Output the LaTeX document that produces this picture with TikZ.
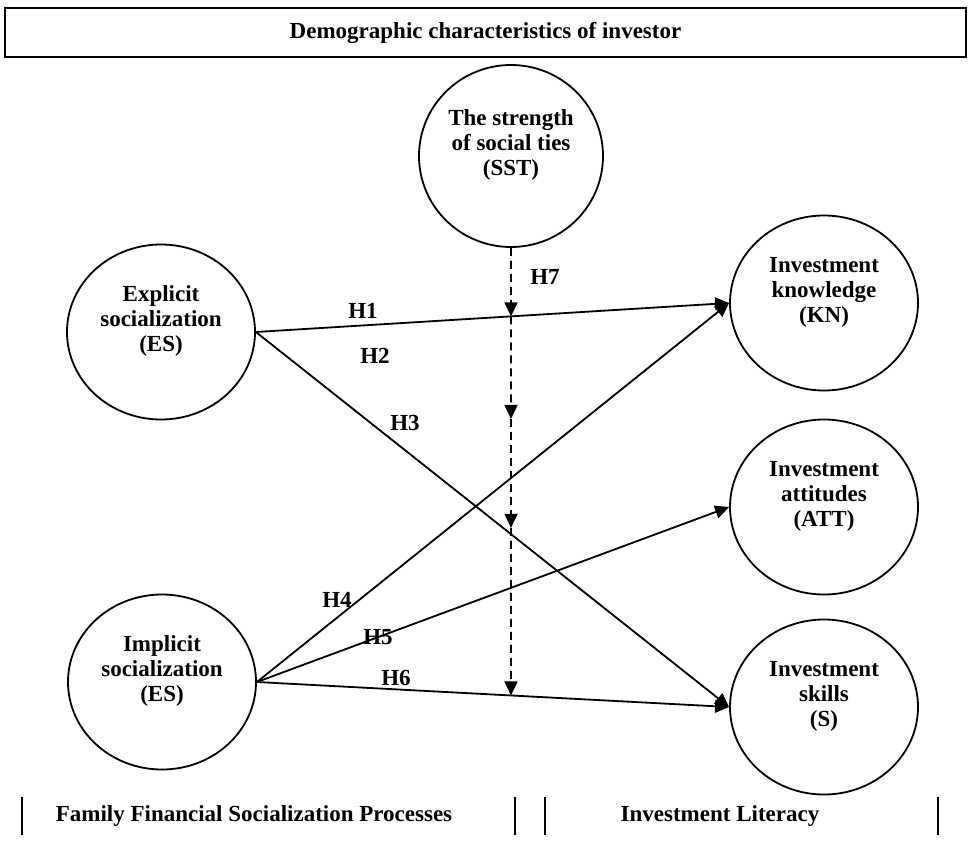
\documentclass[tikz,border=0pt]{standalone}
\usepackage{fontspec}
\setmainfont{Liberation Serif}
\usetikzlibrary{arrows.meta,shapes.geometric,calc}

\begin{document}
\begin{tikzpicture}[x=1pt, y=1pt, >={Triangle[length=14pt,width=13pt]}, line width=1.8pt,
		font=\bfseries\fontsize{23}{25}\selectfont,
		construct/.style={ellipse, draw, minimum width=188pt, minimum height=175pt, inner sep=0pt, align=center, text depth=27pt},
		hyp/.style={inner sep=0pt}]
		\useasboundingbox (0,0) rectangle (971,-851);
		% top box
		\node[draw, minimum width=961pt, minimum height=49pt, inner sep=0pt] (demo) at (485.5,-32.5) {Demographic characteristics of investor};
		% moderator
		\node[construct, minimum width=184pt, minimum height=182pt] (SST) at (511,-156) {The strength\\of social ties\\(SST)};
		% socialization processes
		\node[construct] (ES) at (161,-332) {Explicit\\socialization\\(ES)};
		\node[construct] (IS) at (162,-682) {Implicit\\socialization\\(ES)};
		% investment literacy
		\node[construct] (KN) at (824,-303) {Investment\\knowledge\\(KN)};
		\node[construct] (ATT) at (824,-507) {Investment\\attitudes\\(ATT)};
		\node[construct] (S) at (824,-707) {Investment\\skills\\(S)};
		% direct paths
		\draw[->] (ES.east) -- (KN.west);
		\draw[->] (ES.east) -- (S.west);
		\draw[->] (IS.east) -- (KN.west);
		\draw[->] (IS.east) -- (ATT.west);
		\draw[->] (IS.east) -- (S.west);
		% moderating path, broken into arrowed pieces
		\coordinate (m0) at ($(SST.south)+(0,-600)$);
		\coordinate (m1) at (intersection of ES.east--KN.west and SST.south--m0);
		\coordinate (m2) at ($(SST.south)+(0,-171)$);
		\coordinate (m3) at ($(SST.south)+(0,-280)$);
		\coordinate (m4) at (intersection of IS.east--S.west and SST.south--m0);
		\draw[->, dash pattern=on 8pt off 5pt] (SST.south) -- (m1);
		\draw[->, dash pattern=on 8pt off 5pt] (m1) -- (m2);
		\draw[->, dash pattern=on 8pt off 5pt] (m2) -- (m3);
		\draw[->, dash pattern=on 8pt off 5pt] (m3) -- (m4);
		% hypothesis labels
		\node[hyp] (h1) at (363,-311) {H1};
		\node[hyp] (h2) at (375,-356) {H2};
		\node[hyp] (h3) at (405,-423) {H3};
		\node[hyp] (h4) at (337,-600) {H4};
		\node[hyp] (h5) at (378,-637) {H5};
		\node[hyp] (h6) at (396,-678) {H6};
		\node[hyp] (h7) at (545,-277) {H7};
		% bottom captions
		\draw (22,-797) -- (22,-835);
		\draw (515,-797) -- (515,-835);
		\draw (545,-797) -- (545,-835);
		\draw (938,-797) -- (938,-835);
		\node (fam) at (254,-816) {Family Financial Socialization Processes};
		\node (lit) at (720,-816) {Investment Literacy};
	\end{tikzpicture}
\end{document}
